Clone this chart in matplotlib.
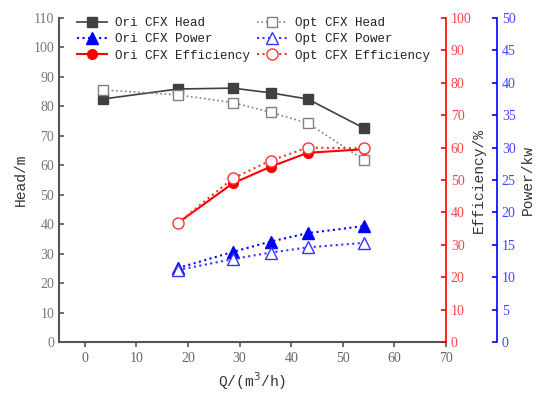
import matplotlib
matplotlib.use("Agg")
import matplotlib.pyplot as plt
import numpy as np

# flow rate Q (m3/h)
q_head = [3.5, 18.0, 28.7, 36.0, 43.2, 54.1]
q_rest = [18.0, 28.7, 36.0, 43.2, 54.1]

ori_head = [82.5, 85.9, 86.2, 84.6, 82.5, 72.6]
opt_head = [85.6, 83.9, 81.3, 78.0, 74.3, 61.8]
ori_power = [11.4, 13.9, 15.5, 16.8, 17.9]
opt_power = [11.1, 12.8, 13.8, 14.6, 15.3]
ori_eff = [36.7, 49.0, 54.1, 58.4, 59.5]
opt_eff = [36.7, 50.5, 56.0, 60.0, 59.8]

tickfont = "Liberation Serif"
labfont = "Liberation Mono"
gray = "#555555"

fig = plt.figure(figsize=(5.5, 3.98), dpi=100)
ax = fig.add_axes([0.1073, 0.1407, 0.7036, 0.814])
ax2 = ax.twinx()
ax3 = ax.twinx()
ax3.spines["right"].set_position(("axes", 1.1318))

h1, = ax.plot(q_head, ori_head, "-s", color="#404040", ms=7, lw=1.2, label="Ori CFX Head")
h2, = ax.plot(q_head, opt_head, ":s", color="#808080", mfc="white", ms=7, lw=1.2, label="Opt CFX Head")
p1, = ax3.plot(q_rest, ori_power, ":^", color="#0000ff", ms=8, lw=1.5, label="Ori CFX Power")
p2, = ax3.plot(q_rest, opt_power, ":^", color="#3333ff", mfc="white", ms=8, lw=1.5, label="Opt CFX Power")
e1, = ax2.plot(q_rest, ori_eff, "-o", color="#ff0000", ms=7, lw=1.5, label="Ori CFX Efficiency")
e2, = ax2.plot(q_rest, opt_eff, ":o", color="#ff3333", mfc="white", ms=8, lw=1.5, label="Opt CFX Efficiency")

ax.set_xlim(-5, 70)
ax.set_ylim(0, 110)
ax.set_xticks(np.arange(0, 71, 10))
ax.set_yticks(np.arange(0, 111, 10))
ax2.set_ylim(0, 100)
ax2.set_yticks(np.arange(0, 101, 10))
ax3.set_ylim(0, 50)
ax3.set_yticks(np.arange(0, 51, 5))

for a in (ax, ax2, ax3):
    a.spines["top"].set_visible(False)
ax.spines["right"].set_visible(False)
for s in ["left", "bottom"]:
    ax.spines[s].set_color(gray)
    ax.spines[s].set_linewidth(1.5)
ax2.spines["right"].set_color("#ff0000")
ax2.spines["right"].set_linewidth(1.2)
ax3.spines["right"].set_color("#0000ff")
ax3.spines["right"].set_linewidth(1.2)
for a in (ax2, ax3):
    a.spines["left"].set_visible(False)
    a.spines["bottom"].set_visible(False)

ax.tick_params(axis="y", direction="in", colors=gray, labelcolor="#777777", labelsize=10, width=1.2)
ax.tick_params(axis="x", direction="out", colors=gray, labelcolor="#666666", labelsize=10, width=1.2)
ax2.tick_params(axis="y", direction="in", colors="#ff0000", labelcolor="#ff4444", labelsize=10, width=1.2)
ax3.tick_params(axis="y", direction="in", colors="#0000ff", labelcolor="#4444ff", labelsize=10, width=1.2)
for a in (ax, ax2, ax3):
    for t in a.get_xticklabels() + a.get_yticklabels():
        t.set_fontfamily(tickfont)

ax.set_xlabel("Q/(m$^3$/h)", family=labfont, fontsize=10.5, color="#333333")
ax.set_ylabel("Head/m", family=labfont, fontsize=10.5, color="#333333")
ax2.set_ylabel("Efficiency/%", family=labfont, fontsize=10.5, color="#333333", labelpad=0)
ax3.set_ylabel("Power/kw", family=labfont, fontsize=10.5, color="#333333", labelpad=4)

leg = ax.legend([h1, p1, e1, h2, p2, e2],
                [h.get_label() for h in (h1, p1, e1, h2, p2, e2)],
                ncol=2, loc="upper left", bbox_to_anchor=(0.025, 1.03), frameon=False,
                prop={"family": labfont, "size": 9}, handlelength=2.4,
                labelspacing=0.35, columnspacing=0.6, handletextpad=0.6,
                borderaxespad=0.3)
for t in leg.get_texts():
    t.set_color("#222222")

fig.savefig("out.png", dpi=100)
